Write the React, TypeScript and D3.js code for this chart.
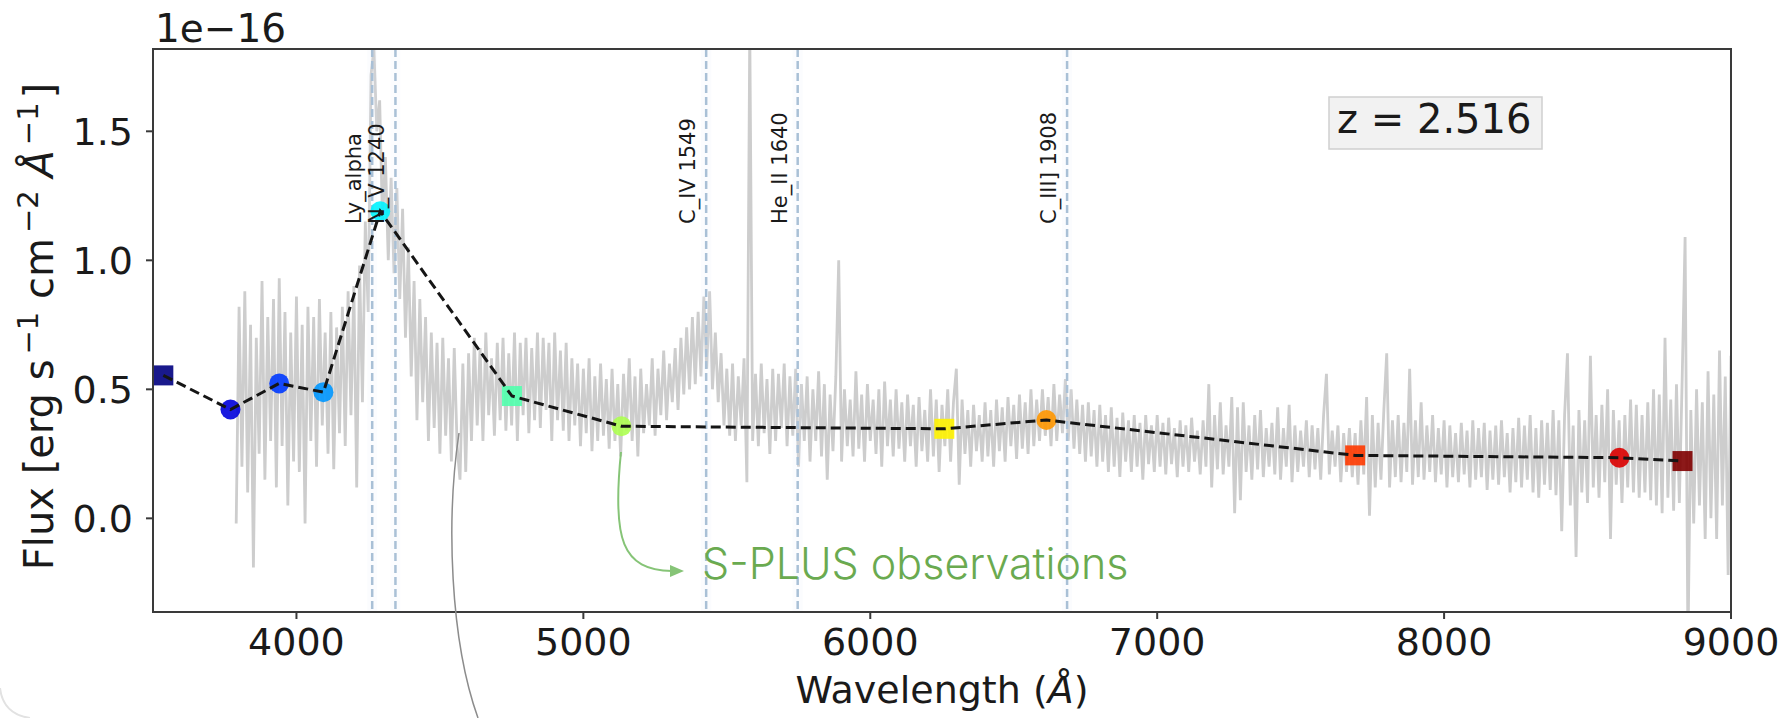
import React from 'react';
import * as d3 from 'd3';

// ---------- data ----------
const xDomain = [3500, 9000];
const yDomain = [-0.363, 1.819];
const xTicks = [4000, 5000, 6000, 7000, 8000, 9000];
const yTicks = [0.0, 0.5, 1.0, 1.5];

// observed spectrum (grey), flux in 1e-16 units, sampled every 10 Å from 3790 Å
const specStart = 3790;
const specStep = 10;
const specFlux = [
  -0.02, 0.82, 0.20, 0.88, 0.10, 0.75, -0.19, 0.70, 0.25, 0.92,
  0.15, 0.78, 0.30, 0.85, 0.12, 0.93, 0.28, 0.80, 0.05, 0.72,
  0.22, 0.86, 0.18, 0.75, -0.02, 0.82, 0.30, 0.78, 0.20, 0.85,
  0.36, 0.72, 0.25, 0.80, 0.19, 0.74, 0.33, 0.82, 0.28, 0.88,
  0.40, 0.90, 0.12, 0.98, 0.45, 1.15, 0.80, 1.72, 1.82, 1.50,
  1.62, 1.15, 1.40, 1.00, 1.32, 0.95, 1.28, 0.85, 1.20, 0.70,
  1.05, 0.55, 0.92, 0.38, 0.85, 0.45, 0.78, 0.30, 0.72, 0.35,
  0.68, 0.25, 0.70, 0.32, 0.62, 0.22, 0.66, 0.28, 0.15, 0.60,
  0.18, 0.64, 0.30, 0.70, 0.36, 0.66, 0.30, 0.72, 0.40, 0.62,
  0.32, 0.68, 0.38, 0.70, 0.34, 0.64, 0.36, 0.72, 0.30, 0.68,
  0.40, 0.70, 0.33, 0.66, 0.38, 0.72, 0.35, 0.70, 0.42, 0.68,
  0.30, 0.72, 0.38, 0.65, 0.34, 0.68, 0.30, 0.62, 0.36, 0.60,
  0.28, 0.58, 0.33, 0.62, 0.26, 0.55, 0.30, 0.60, 0.32, 0.54,
  0.27, 0.58, 0.30, 0.52, 0.24, 0.56, 0.34, 0.62, 0.30, 0.55,
  0.24, 0.58, 0.33, 0.52, 0.36, 0.62, 0.32, 0.58, 0.40, 0.65,
  0.38, 0.60, 0.45, 0.66, 0.42, 0.70, 0.48, 0.74, 0.50, 0.78,
  0.52, 0.80, 0.55, 0.86, 0.58, 0.88, 0.50, 0.72, 0.45, 0.64,
  0.36, 0.58, 0.32, 0.60, 0.30, 0.55, 0.36, 0.62, 0.14, 1.90,
  0.30, 0.56, 0.28, 0.60, 0.33, 0.54, 0.25, 0.58, 0.30, 0.56,
  0.35, 0.60, 0.28, 0.55, 0.32, 0.58, 0.20, 0.52, 0.30, 0.55,
  0.22, 0.50, 0.30, 0.57, 0.24, 0.52, 0.15, 0.48, 0.26, 0.55,
  1.00, 0.22, 0.50, 0.28, 0.46, 0.24, 0.57, 0.27, 0.48, 0.22,
  0.52, 0.30, 0.46, 0.25, 0.50, 0.20, 0.53, 0.28, 0.46, 0.24,
  0.50, 0.27, 0.45, 0.22, 0.48, 0.28, 0.44, 0.20, 0.47, 0.26,
  0.42, 0.22, 0.50, 0.24, 0.46, 0.18, 0.44, 0.28, 0.50, 0.22,
  0.45, 0.58, 0.13, 0.46, 0.25, 0.42, 0.20, 0.44, 0.26, 0.40,
  0.22, 0.45, 0.24, 0.42, 0.20, 0.46, 0.26, 0.43, 0.22, 0.47,
  0.28, 0.44, 0.23, 0.48, 0.27, 0.45, 0.25, 0.50, 0.28, 0.46,
  0.30, 0.50, 0.32, 0.47, 0.28, 0.52, 0.30, 0.48, 0.33, 0.54,
  0.30, 0.50, 0.27, 0.46, 0.25, 0.44, 0.22, 0.45, 0.24, 0.42,
  0.20, 0.44, 0.22, 0.40, 0.18, 0.43, 0.20, 0.39, 0.16, 0.41,
  0.22, 0.38, 0.18, 0.40, 0.20, 0.37, 0.15, 0.40, 0.21, 0.36,
  0.18, 0.40, 0.20, 0.37, 0.17, 0.39, 0.21, 0.35, 0.16, 0.38,
  0.20, 0.36, 0.18, 0.39, 0.22, 0.34, 0.17, 0.38, 0.20, 0.52,
  0.12, 0.40, 0.19, 0.45, 0.17, 0.36, 0.20, 0.47, 0.02, 0.43,
  0.07, 0.45, 0.18, 0.36, 0.15, 0.40, 0.19, 0.42, 0.16, 0.35,
  0.20, 0.37, 0.17, 0.43, 0.15, 0.35, 0.20, 0.44, 0.14, 0.36,
  0.18, 0.34, 0.20, 0.38, 0.16, 0.36, 0.19, 0.35, 0.15, 0.40,
  0.56, 0.17, 0.34, 0.20, 0.36, 0.14, 0.33, 0.18, 0.35, 0.16,
  0.33, 0.13, 0.38, 0.17, 0.47, 0.01, 0.40, 0.12, 0.37, 0.15,
  0.42, 0.64, 0.12, 0.38, 0.16, 0.40, 0.14, 0.37, 0.18, 0.58,
  0.13, 0.38, 0.16, 0.45, 0.15, 0.36, 0.18, 0.40, 0.14, 0.35,
  0.17, 0.38, 0.12, 0.36, 0.16, 0.33, 0.14, 0.37, 0.17, 0.34,
  0.12, 0.38, 0.15, 0.35, 0.16, 0.37, 0.11, 0.34, 0.15, 0.36,
  0.13, 0.38, 0.16, 0.33, 0.10, 0.35, 0.14, 0.39, 0.12, 0.36,
  0.15, 0.40, 0.10, 0.35, 0.08, 0.38, 0.13, 0.37, 0.11, 0.42,
  0.09, 0.38, -0.05, 0.40, 0.64, 0.05, 0.36, -0.15, 0.42, 0.10,
  0.38, 0.06, 0.63, 0.12, 0.40, 0.08, 0.44, 0.14, 0.50, -0.08,
  0.42, 0.13, 0.38, 0.06, 0.40, 0.12, 0.46, 0.10, 0.44, 0.08,
  0.40, 0.10, 0.45, 0.07, 0.50, 0.05, 0.48, 0.02, 0.70, 0.08,
  0.46, 0.03, 0.52, 0.06, 0.55, 1.09, -0.50, 0.42, -0.02, 0.50,
  0.05, 0.45, -0.08, 0.57, 0.00, 0.48, -0.08, 0.65, 0.05, 0.55,
  -0.22, 0.63,
];

// S-PLUS photometry
const filterNames = ['uJAVA', 'J0378', 'J0395', 'J0410', 'J0430', 'gSDSS', 'J0515', 'rSDSS', 'J0660', 'iSDSS', 'J0861', 'zSDSS'];
const filterWave = [3536, 3770, 3940, 4094, 4292, 4751, 5133, 6258, 6614, 7690, 8611, 8831];
const filterFlux = [0.554, 0.422, 0.523, 0.489, 1.19, 0.474, 0.357, 0.347, 0.381, 0.244, 0.235, 0.222];
const filterShape = ['square', 'circle', 'circle', 'circle', 'circle', 'square', 'circle', 'square', 'circle', 'square', 'circle', 'square'];
const filterColor = ['#000080', '#0000dc', '#003aff', '#0097ff', '#00f3ff', '#51ffad', '#adff51', '#fff300', '#ff9700', '#ff3a00', '#dc0000', '#800000'];

// emission lines (observed wavelength)
const lineNames = ['Ly_alpha', 'N_V 1240', 'C_IV 1549', 'He_II 1640', 'C_III] 1908'];
const lineWave = [4264, 4345, 5428, 5747, 6686];

const redshiftLabel = 'z = 2.516';
const annotationText = 'S-PLUS observations';

// ---------- layout ----------
const W = 1787;
const H = 718;
const left = 153, right = 1731, top = 49, bottom = 612;
const FONT = '"DejaVu Sans", sans-serif';

export default function App() {
  const x = d3.scaleLinear().domain(xDomain).range([left, right]);
  const y = d3.scaleLinear().domain(yDomain).range([bottom, top]);

  const specLine = d3
    .line<number>()
    .x((_, i) => x(specStart + i * specStep))
    .y((d) => y(d));

  const photLine = d3
    .line<number>()
    .x((_, i) => x(filterWave[i]))
    .y((d) => y(d));

  const sup = 29;
  const shift = 15;

  return (
    <svg
      width={W}
      height={H}
      viewBox={`0 0 ${W} ${H}`}
      style={{ position: 'absolute', left: 0, top: 0, background: '#fff' }}
      fontFamily={FONT}
    >
      <defs>
        <clipPath id="plotClip">
          <rect x={left} y={top} width={right - left} height={bottom - top} />
        </clipPath>
      </defs>
      <rect x={0} y={0} width={W} height={H} fill="#fff" />

      {/* faint slide corner */}
      <path d="M 0 688 Q 3 714 30 718" fill="none" stroke="#e2e2e2" strokeWidth={2} />

      <g clipPath="url(#plotClip)">
        {/* spectrum */}
        <path d={specLine(specFlux) || ''} fill="none" stroke="#cdcdcd" strokeWidth={2.8} strokeLinejoin="bevel" />

        {/* emission lines */}
        {lineWave.map((w, i) => (
          <g key={`l${i}`}>
            <rect x={x(w) - 5} y={top} width={10} height={bottom - top} fill="#e3edf7" opacity={0.15} />
            <line
              x1={x(w)}
              x2={x(w)}
              y1={top}
              y2={bottom}
              stroke="#a9c0d6"
              strokeWidth={2.5}
              strokeDasharray="8,4"
            />
          </g>
        ))}

        {/* markers */}
        {filterWave.map((w, i) =>
          filterShape[i] === 'circle' ? (
            <circle key={`m${i}`} cx={x(w)} cy={y(filterFlux[i])} r={10} fill={filterColor[i]} opacity={0.9} />
          ) : (
            <rect
              key={`m${i}`}
              x={x(w) - 10}
              y={y(filterFlux[i]) - 10}
              width={20}
              height={20}
              fill={filterColor[i]}
              opacity={0.9}
            />
          )
        )}

        {/* photometry dashed line */}
        <path d={photLine(filterFlux) || ''} fill="none" stroke="#151515" strokeWidth={3} strokeDasharray="10,5" />
      </g>

      {/* line labels */}
      {lineWave.map((w, i) => (
        <text
          key={`t${i}`}
          transform={`translate(${x(w) - 11},224) rotate(-90)`}
          fontSize={21}
          fill="#1a1a1a"
          textAnchor="start"
        >
          {lineNames[i]}
        </text>
      ))}

      {/* frame */}
      <rect x={left} y={top} width={right - left} height={bottom - top} fill="none" stroke="#3a3a3a" strokeWidth={2} />

      {/* x ticks */}
      {xTicks.map((t) => (
        <g key={`xt${t}`}>
          <line x1={x(t)} x2={x(t)} y1={bottom} y2={bottom + 7} stroke="#3a3a3a" strokeWidth={2} />
          <text x={x(t)} y={655} fontSize={38} textAnchor="middle" fill="#1a1a1a">
            {t}
          </text>
        </g>
      ))}

      {/* y ticks */}
      {yTicks.map((t) => (
        <g key={`yt${t}`}>
          <line x1={left - 7} x2={left} y1={y(t)} y2={y(t)} stroke="#3a3a3a" strokeWidth={2} />
          <text x={133} y={y(t) + 14} fontSize={38} textAnchor="end" fill="#1a1a1a">
            {t.toFixed(1)}
          </text>
        </g>
      ))}

      {/* offset text */}
      <text x={155} y={42} fontSize={39} fill="#1a1a1a">
        1e−16
      </text>

      {/* axis labels */}
      <text x={(left + right) / 2} y={703} fontSize={38} textAnchor="middle" fill="#1a1a1a">
        Wavelength (<tspan fontStyle="italic">Å</tspan>)
      </text>

      <text
        transform={`translate(53,${(top + bottom) / 2 - 4}) rotate(-90)`}
        fontSize={40}
        textAnchor="middle"
        fill="#1a1a1a"
      >
        Flux [erg s
        <tspan dx={5} dy={-shift} fontSize={sup}>−1</tspan>
        <tspan dy={shift}>{' '}cm</tspan>
        <tspan dx={5} dy={-shift} fontSize={sup}>−2</tspan>
        <tspan dy={shift}>{'  '}</tspan>
        <tspan fontStyle="italic">Å</tspan>
        <tspan dx={5} dy={-shift} fontSize={sup}>−1</tspan>
        <tspan dx={4} dy={shift}>]</tspan>
      </text>

      {/* redshift box */}
      <rect x={1329} y={97} width={213} height={52} fill="#f2f2f2" stroke="#cfcfcf" strokeWidth={1.5} />
      <text x={1337} y={133} fontSize={40} fill="#1a1a1a">
        {redshiftLabel}
      </text>

      {/* grey annotation curve */}
      <path d="M 459 433 C 446 520, 450 640, 478 718" fill="none" stroke="#8c8c8c" strokeWidth={1.5} />

      {/* green arrow + label */}
      <path d="M 621 452 C 612 540, 622 570, 672 571" fill="none" stroke="#86c477" strokeWidth={2} />
      <polygon points="684,571 670,565 670,577" fill="#86c477" />
      <text x={702} y={579} fontSize={43} fontFamily="Inter, 'Noto Sans', sans-serif" fontWeight={300} fill="#6aaa50">
        {annotationText}
      </text>
    </svg>
  );
}
